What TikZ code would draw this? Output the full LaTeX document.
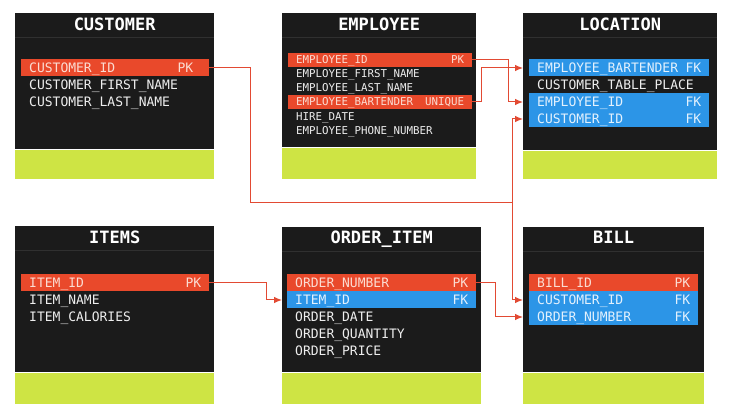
\documentclass[tikz,border=0pt]{standalone}
\usepackage{fontspec}
\setmonofont{DejaVu Sans Mono}
\usetikzlibrary{positioning,arrows.meta}

\definecolor{tblBlack}{HTML}{1B1B1B}
\definecolor{tblLine}{HTML}{303030}
\definecolor{footGreen}{HTML}{CEE444}
\definecolor{pkRed}{HTML}{E9492B}
\definecolor{fkBlue}{HTML}{2C95E7}
\definecolor{pkText}{HTML}{FBDCD2}
\definecolor{fkText}{HTML}{E3F1FD}
\definecolor{rowText}{HTML}{EEEEEE}
\definecolor{linkRed}{HTML}{E24A33}

\newcommand{\keyfill}{\hskip 0pt plus 1filll}
\newcommand{\rowfont}{\ttfamily\fontsize{13}{15}\selectfont}
\newcommand{\smallrowfont}{\ttfamily\fontsize{10.8}{13}\selectfont}
\newcommand{\titlefont}{\ttfamily\bfseries\fontsize{17}{20}\selectfont}

\tikzstyle{tableBody} = [rectangle, fill=tblBlack, anchor=north west, inner sep=0pt, minimum width=199pt]
\tikzstyle{tableFoot} = [rectangle, fill=footGreen, inner sep=0pt, minimum width=199pt, minimum height=29pt]
\tikzstyle{tableTitle} = [anchor=base, text=white, font=\titlefont, inner sep=0pt]
\tikzstyle{sepLine} = [draw=tblLine, line width=0.8pt]
\tikzstyle{smallRow} = [font=\smallrowfont, minimum height=14pt, text height=9pt, text depth=1.1pt]
\tikzstyle{linkArrow} = [draw=linkRed, line width=1pt, ->, >={Latex[length=8pt,width=6.5pt]}]
\tikzset{
  rowNode/.style={rectangle, inner xsep=8pt, inner ysep=0pt, minimum height=17pt,
    text height=11pt, text depth=1.5pt, align=left, font=\rowfont, text=rowText, text width=#1},
  rowNode/.default=172pt,
  rowNodeRed/.style={rowNode=#1, fill=pkRed, text=pkText},
  rowNodeRed/.default=172pt,
  rowNodeBlue/.style={rowNode=#1, fill=fkBlue, text=fkText},
  rowNodeBlue/.default=172pt,
}

\begin{document}
\begin{tikzpicture}[x=1pt, y=1pt, node distance=17pt]
    \fill[white] (0,0) rectangle (733,-419);

    % CUSTOMER
    \node (customer)[tableBody, minimum height=136pt] at (15,-13) {};
    \node (customer_foot)[tableFoot, below=0pt of customer] {};
    \node (customer_title)[tableTitle] at ([yshift=-18pt]customer.north) {CUSTOMER};
    \draw [sepLine] ([yshift=-24pt]customer.north west) -- ([yshift=-24pt]customer.north east);
    \node (cust_id)[rowNodeRed] at ([xshift=0.5pt,yshift=-55pt]customer.north) {CUSTOMER\_ID\keyfill PK\kern8pt};
    \node (cust_first)[rowNode, below of=cust_id] {CUSTOMER\_FIRST\_NAME};
    \node (cust_last)[rowNode, below of=cust_first] {CUSTOMER\_LAST\_NAME};

    % EMPLOYEE
    \node (employee)[tableBody, minimum width=194pt, minimum height=134pt] at (282,-13) {};
    \node (employee_foot)[tableFoot, minimum width=194pt, minimum height=31pt, below=0pt of employee] {};
    \node (employee_title)[tableTitle] at ([yshift=-18pt]employee.north) {EMPLOYEE};
    \draw [sepLine] ([yshift=-24pt]employee.north west) -- ([yshift=-24pt]employee.north east);
    \node (emp_id)[rowNodeRed=168pt, smallRow] at ([xshift=1pt,yshift=-47pt]employee.north) {EMPLOYEE\_ID\keyfill PK};
    \node (emp_first)[rowNode=168pt, smallRow, below of=emp_id, node distance=14pt] {EMPLOYEE\_FIRST\_NAME};
    \node (emp_last)[rowNode=168pt, smallRow, below of=emp_first, node distance=14pt] {EMPLOYEE\_LAST\_NAME};
    \node (emp_bart)[rowNodeRed=168pt, smallRow, below of=emp_last, node distance=14pt] {EMPLOYEE\_BARTENDER\keyfill UNIQUE};
    \node (emp_hire)[rowNode=168pt, smallRow, below of=emp_bart, node distance=14.5pt] {HIRE\_DATE};
    \node (emp_phone)[rowNode=168pt, smallRow, below of=emp_hire, node distance=14pt] {EMPLOYEE\_PHONE\_NUMBER};

    % LOCATION
    \node (location)[tableBody, minimum width=194pt, minimum height=137pt] at (523,-13) {};
    \node (location_foot)[tableFoot, minimum width=194pt, minimum height=28pt, below=0pt of location] {};
    \node (location_title)[tableTitle] at ([yshift=-18pt]location.north) {LOCATION};
    \draw [sepLine] ([yshift=-24pt]location.north west) -- ([yshift=-24pt]location.north east);
    \node (loc_bart)[rowNodeBlue=164pt] at ([xshift=-1pt,yshift=-55pt]location.north) {EMPLOYEE\_BARTENDER\keyfill FK};
    \node (loc_table)[rowNode=164pt, below of=loc_bart] {CUSTOMER\_TABLE\_PLACE};
    \node (loc_emp)[rowNodeBlue=164pt, below of=loc_table] {EMPLOYEE\_ID\keyfill FK};
    \node (loc_cust)[rowNodeBlue=164pt, below of=loc_emp] {CUSTOMER\_ID\keyfill FK};

    % ITEMS
    \node (items)[tableBody, minimum height=146pt] at (15,-226) {};
    \node (items_foot)[tableFoot, minimum height=31pt, below=0pt of items] {};
    \node (items_title)[tableTitle] at ([yshift=-18pt]items.north) {ITEMS};
    \draw [sepLine] ([yshift=-24pt]items.north west) -- ([yshift=-24pt]items.north east);
    \node (item_id)[rowNodeRed] at ([xshift=0.5pt,yshift=-57pt]items.north) {ITEM\_ID\keyfill PK};
    \node (item_name)[rowNode, below of=item_id] {ITEM\_NAME};
    \node (item_cal)[rowNode, below of=item_name] {ITEM\_CALORIES};

    % ORDER_ITEM
    \node (orderitem)[tableBody, minimum height=145pt] at (282,-227) {};
    \node (orderitem_foot)[tableFoot, minimum height=31pt, below=0pt of orderitem] {};
    \node (orderitem_title)[tableTitle] at ([yshift=-17pt]orderitem.north) {ORDER\_ITEM};
    \draw [sepLine] ([yshift=-24pt]orderitem.north west) -- ([yshift=-24pt]orderitem.north east);
    \node (oi_num)[rowNodeRed=173pt] at ([yshift=-56pt]orderitem.north) {ORDER\_NUMBER\keyfill PK};
    \node (oi_item)[rowNodeBlue=173pt, below of=oi_num] {ITEM\_ID\keyfill FK};
    \node (oi_date)[rowNode=173pt, below of=oi_item] {ORDER\_DATE};
    \node (oi_qty)[rowNode=173pt, below of=oi_date] {ORDER\_QUANTITY};
    \node (oi_price)[rowNode=173pt, below of=oi_qty] {ORDER\_PRICE};

    % BILL
    \node (bill)[tableBody, minimum width=181pt, minimum height=145pt] at (523,-227) {};
    \node (bill_foot)[tableFoot, minimum width=181pt, minimum height=31pt, below=0pt of bill] {};
    \node (bill_title)[tableTitle] at ([yshift=-17pt]bill.north) {BILL};
    \draw [sepLine] ([yshift=-24pt]bill.north west) -- ([yshift=-24pt]bill.north east);
    \node (bill_id)[rowNodeRed=153pt] at ([yshift=-56pt]bill.north) {BILL\_ID\keyfill PK};
    \node (bill_cust)[rowNodeBlue=153pt, below of=bill_id] {CUSTOMER\_ID\keyfill FK};
    \node (bill_num)[rowNodeBlue=153pt, below of=bill_cust] {ORDER\_NUMBER\keyfill FK};

    % links
    \coordinate (cust_turn) at (250,-203);
    \coordinate (cust_bus) at (512,-203);
    \draw [linkArrow] (cust_id.east) -| (cust_turn) -- (cust_bus) |- (location.west |- loc_cust);
    \draw [linkArrow] (cust_bus) |- (bill.west |- bill_cust);
    \draw [linkArrow] (emp_id.east) -- ++(36pt,0) |- (location.west |- loc_emp);
    \draw [linkArrow] (emp_bart.east) -- ++(9pt,0) |- (location.west |- loc_bart);
    \draw [linkArrow] (item_id.east) -- ++(57pt,0) |- (orderitem.west |- oi_item);
    \draw [linkArrow] (oi_num.east) -- ++(19pt,0) |- (bill.west |- bill_num);
\end{tikzpicture}
\end{document}
